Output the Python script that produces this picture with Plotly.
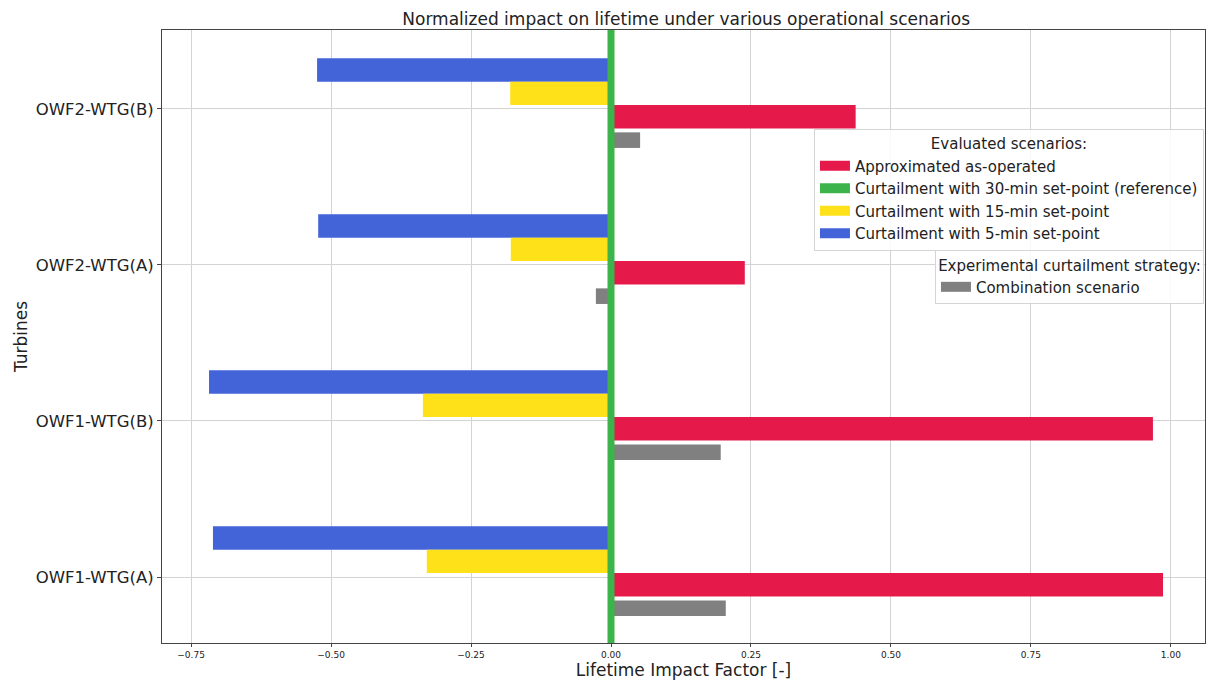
import plotly.graph_objects as go

turbines = ["OWF1-WTG(A)", "OWF1-WTG(B)", "OWF2-WTG(A)", "OWF2-WTG(B)"]
as_operated = [0.986, 0.968, 0.239, 0.437]
setpoint_30min = [0.0, 0.0, 0.0, 0.0]
setpoint_15min = [-0.329, -0.336, -0.179, -0.180]
setpoint_5min = [-0.711, -0.718, -0.523, -0.525]
combination = [0.205, 0.196, -0.027, 0.052]

RED = "#E6194B"
GREEN = "#3CB44B"
YELLOW = "#FFE119"
BLUE = "#4363D8"
GRAY = "#808080"
FONT = "DejaVu Sans"

fig = go.Figure()

def add_bar(vals, color, offset, width):
    fig.add_trace(go.Bar(
        y=turbines, x=vals, orientation="h", marker_color=color,
        marker_line_width=0, offset=offset, width=width, showlegend=False,
    ))

add_bar(setpoint_5min, BLUE, 0.175, 0.15)
add_bar(setpoint_15min, YELLOW, 0.025, 0.15)
add_bar(as_operated, RED, -0.125, 0.15)
add_bar(combination, GRAY, -0.25, 0.1)

# reference line (30-min set-point)
fig.add_vline(x=setpoint_30min[0], line_width=7, line_color=GREEN, layer="above")

def add_legend(name, color, legend):
    fig.add_trace(go.Scatter(
        x=[None], y=[None], mode="lines", name=name,
        line=dict(color=color, width=10), legend=legend,
    ))

add_legend("Approximated as-operated", RED, "legend")
add_legend("Curtailment with 30-min set-point (reference)", GREEN, "legend")
add_legend("Curtailment with 15-min set-point", YELLOW, "legend")
add_legend("Curtailment with 5-min set-point", BLUE, "legend")
add_legend("Combination scenario", GRAY, "legend2")

legend_common = dict(
    bgcolor="rgba(255,255,255,0.85)", bordercolor="#d5d5d5", borderwidth=1,
    font=dict(family=FONT, size=15, color="#222"), xanchor="right", yanchor="top",
    tracegroupgap=0, itemwidth=30,
)

fig.update_layout(
    width=1206, height=681,
    paper_bgcolor="white", plot_bgcolor="white",
    margin=dict(l=162, r=1, t=30, b=38),
    barmode="overlay",
    font=dict(family=FONT, color="#222"),
    title=dict(text="Normalized impact on lifetime under various operational scenarios",
               x=0.569, xanchor="center", y=0.972, yanchor="middle",
               font=dict(family=FONT, size=17, color="#222")),
    legend=dict(x=0.999, y=0.8385,
                title=dict(text="Evaluated scenarios:", side="top center",
                           font=dict(family=FONT, size=15)),
                **legend_common),
    legend2=dict(x=0.999, y=0.641,
                 title=dict(text="Experimental curtailment strategy:", side="top center",
                            font=dict(family=FONT, size=15)),
                 **legend_common),
    xaxis=dict(
        range=[-0.802, 1.061], tickvals=[-0.75, -0.5, -0.25, 0, 0.25, 0.5, 0.75, 1.0],
        ticktext=["\u22120.75", "\u22120.50", "\u22120.25", "0.00", "0.25", "0.50", "0.75", "1.00"],
        tickfont=dict(family=FONT, size=9, color="#222"),
        ticks="outside", ticklen=3, tickcolor="#444",
        showgrid=True, gridcolor="#d3d3d3", gridwidth=1, zeroline=False,
        showline=True, linecolor="#444", linewidth=1, mirror=True,
        title=dict(text="Lifetime Impact Factor [-]", font=dict(family=FONT, size=17, color="#222"),
                   standoff=4),
        automargin=False,
    ),
    yaxis=dict(
        type="category", range=[-0.423, 3.506],
        tickfont=dict(family=FONT, size=16.5, color="#222"),
        ticks="outside", ticklen=4, tickcolor="#444",
        showgrid=True, gridcolor="#d3d3d3", gridwidth=1, zeroline=False,
        showline=True, linecolor="#444", linewidth=1, mirror=True,
        title=dict(text="Turbines", font=dict(family=FONT, size=17, color="#222"), standoff=3),
        automargin=False,
    ),
)

fig.write_html(
    "out.html",
    config={"displayModeBar": False},
    post_script="document.body.style.margin='0';document.body.style.overflow='hidden';",
)
